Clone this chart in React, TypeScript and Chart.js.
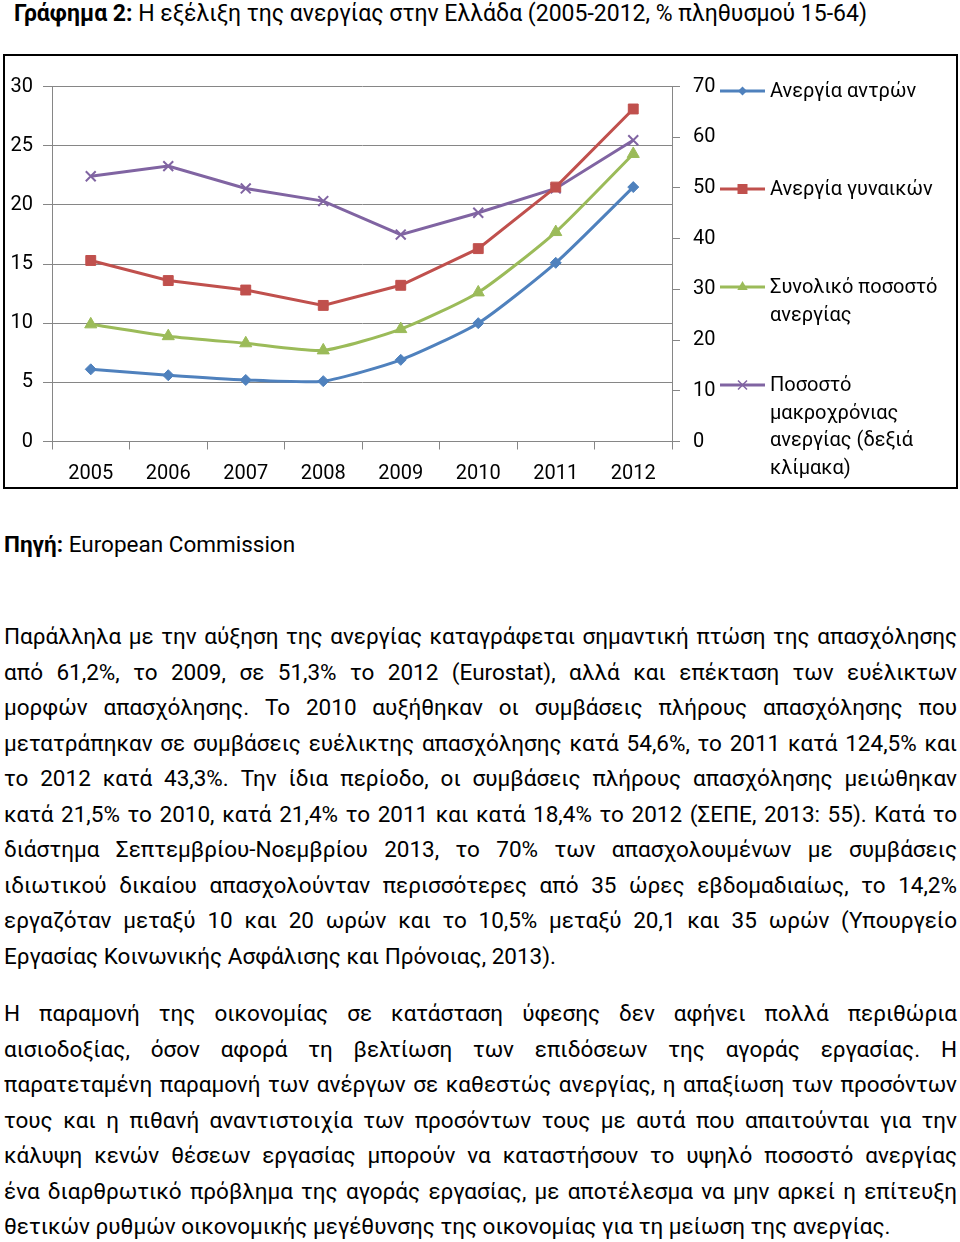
import React, { useEffect, useRef } from "react";
import { Chart, registerables } from "chart.js";

Chart.register(...registerables);

// ---------- data ----------
const years = ["2005", "2006", "2007", "2008", "2009", "2010", "2011", "2012"];
const menUnemployment = [6.1, 5.6, 5.2, 5.1, 6.9, 10.0, 15.1, 21.5];
const womenUnemployment = [15.3, 13.6, 12.8, 11.5, 13.2, 16.3, 21.5, 28.1];
const totalUnemployment = [9.9, 8.9, 8.3, 7.7, 9.5, 12.6, 17.7, 24.3];
const longTermUnemployment = [52.3, 54.3, 49.9, 47.4, 40.8, 45.1, 49.9, 59.4];

const seriesNames = [
  "Ανεργία αντρών",
  "Ανεργία γυναικών",
  "Συνολικό ποσοστό ανεργίας",
  "Ποσοστό μακροχρόνιας ανεργίας (δεξιά κλίμακα)",
];
const legendLines = [
  ["Ανεργία αντρών"],
  ["Ανεργία γυναικών"],
  ["Συνολικό ποσοστό", "ανεργίας"],
  ["Ποσοστό", "μακροχρόνιας", "ανεργίας (δεξιά", "κλίμακα)"],
];

const titleBold = "Γράφημα 2:";
const titleRest = " Η εξέλιξη της ανεργίας στην Ελλάδα (2005-2012, % πληθυσμού 15-64)";
const sourceBold = "Πηγή:";
const sourceRest = " European Commission";

const paragraph1 = [
  "Παράλληλα με την αύξηση της ανεργίας καταγράφεται σημαντική πτώση της  απασχόλησης",
  "από 61,2%, το 2009, σε 51,3% το 2012 (Eurostat), αλλά και επέκταση των ευέλικτων",
  "μορφών απασχόλησης. Το 2010 αυξήθηκαν οι συμβάσεις πλήρους απασχόλησης που",
  "μετατράπηκαν σε συμβάσεις ευέλικτης απασχόλησης κατά 54,6%, το 2011 κατά 124,5% και",
  "το 2012 κατά 43,3%. Την ίδια περίοδο, οι συμβάσεις πλήρους απασχόλησης μειώθηκαν",
  "κατά 21,5% το 2010, κατά 21,4% το 2011 και κατά 18,4% το 2012 (ΣΕΠΕ, 2013: 55).  Κατά το",
  "διάστημα Σεπτεμβρίου-Νοεμβρίου 2013, το 70% των απασχολουμένων με συμβάσεις",
  "ιδιωτικού δικαίου απασχολούνταν περισσότερες από 35 ώρες  εβδομαδιαίως, το 14,2%",
  "εργαζόταν μεταξύ 10 και 20 ωρών και το 10,5% μεταξύ 20,1 και 35 ωρών (Υπουργείο",
  "Εργασίας Κοινωνικής Ασφάλισης και Πρόνοιας, 2013).",
];
const paragraph2 = [
  "Η παραμονή της οικονομίας σε κατάσταση ύφεσης δεν αφήνει πολλά περιθώρια",
  "αισιοδοξίας, όσον αφορά τη βελτίωση των επιδόσεων της αγοράς εργασίας. Η",
  "παρατεταμένη παραμονή των ανέργων σε καθεστώς ανεργίας, η απαξίωση των προσόντων",
  "τους και η πιθανή αναντιστοιχία των προσόντων τους με αυτά που απαιτούνται για την",
  "κάλυψη κενών θέσεων εργασίας μπορούν να  καταστήσουν το υψηλό ποσοστό ανεργίας",
  "ένα διαρθρωτικό πρόβλημα της αγοράς εργασίας, με αποτέλεσμα να μην αρκεί η επίτευξη",
  "θετικών ρυθμών οικονομικής μεγέθυνσης της οικονομίας για τη μείωση της ανεργίας.",
];

// ---------- style ----------
const FONT = "Roboto, 'Noto Sans', sans-serif";
const colors = ["#4F81BD", "#C0504D", "#9BBB59", "#8064A2"];
const markers = ["rectRot", "rect", "triangle", "crossRot"];
const GRID = "#868686";

function drawMarker(ctx: CanvasRenderingContext2D, kind: string, x: number, y: number, color: string) {
  ctx.save();
  ctx.fillStyle = color;
  ctx.strokeStyle = color;
  ctx.beginPath();
  if (kind === "rectRot") {
    const r = 4.5;
    ctx.moveTo(x, y - r);
    ctx.lineTo(x + r, y);
    ctx.lineTo(x, y + r);
    ctx.lineTo(x - r, y);
    ctx.closePath();
    ctx.fill();
  } else if (kind === "rect") {
    const s = 5;
    ctx.rect(x - s, y - s, 2 * s, 2 * s);
    ctx.fill();
  } else if (kind === "triangle") {
    const r = 6;
    ctx.moveTo(x, y - r);
    ctx.lineTo(x + r * 0.866, y + r * 0.5);
    ctx.lineTo(x - r * 0.866, y + r * 0.5);
    ctx.closePath();
    ctx.fill();
  } else {
    const a = 4.5;
    ctx.lineWidth = 1.5;
    ctx.moveTo(x - a, y - a);
    ctx.lineTo(x + a, y + a);
    ctx.moveTo(x + a, y - a);
    ctx.lineTo(x - a, y + a);
    ctx.stroke();
  }
  ctx.restore();
}

const sideLegend = {
  id: "sideLegend",
  afterDraw(chart: any) {
    const { ctx, chartArea } = chart;
    const x0 = chartArea.right + 48;
    const x1 = chartArea.right + 93;
    const tx = chartArea.right + 98;
    ctx.save();
    ctx.font = `20px ${FONT}`;
    ctx.fillStyle = "#000";
    ctx.textBaseline = "middle";
    ctx.textAlign = "left";
    legendLines.forEach((lines, i) => {
      const y = chartArea.top + 4.5 + i * 98;
      ctx.save();
      ctx.strokeStyle = colors[i];
      ctx.lineWidth = 3;
      ctx.beginPath();
      ctx.moveTo(x0, y);
      ctx.lineTo(x1, y);
      ctx.stroke();
      ctx.restore();
      drawMarker(ctx, markers[i], (x0 + x1) / 2, y, colors[i]);
      lines.forEach((t, j) => {
        ctx.fillText(t, tx, y + 1 + j * 27.5);
      });
    });
    ctx.restore();
  },
};

function UnemploymentChart() {
  const ref = useRef<HTMLCanvasElement | null>(null);
  useEffect(() => {
    if (!ref.current) return;
    const tickFont = { family: FONT, size: 20 };
    const mk = (i: number, data: number[], axis: string, tension: number, radius: number) => ({
      label: seriesNames[i],
      data,
      yAxisID: axis,
      borderColor: colors[i],
      backgroundColor: colors[i],
      borderWidth: 3,
      pointStyle: markers[i],
      pointRadius: radius,
      pointBorderWidth: i === 3 ? 2 : 1,
      pointBorderColor: colors[i],
      pointBackgroundColor: colors[i],
      tension,
      fill: false,
    });
    const chart = new Chart(ref.current, {
      type: "line",
      data: {
        labels: years,
        datasets: [
          mk(0, menUnemployment, "y", 0.2, 5.5),
          mk(1, womenUnemployment, "y", 0, 7),
          mk(2, totalUnemployment, "y", 0.2, 7),
          mk(3, longTermUnemployment, "y1", 0, 7),
        ],
      },
      options: {
        responsive: false,
        animation: false,
        layout: { padding: { top: 31.5, left: 0, right: 238, bottom: 7.5 } },
        plugins: { legend: { display: false }, tooltip: { enabled: false } },
        scales: {
          x: {
            type: "category",
            offset: true,
            grid: { offset: true, drawOnChartArea: false, drawTicks: true, tickLength: 8, color: GRID },
            border: { color: GRID },
            ticks: { font: tickFont, color: "#000", padding: 12, maxRotation: 0, autoSkip: false },
            afterFit: (s: any) => {
              s.height = 46;
            },
          },
          y: {
            position: "left",
            min: 0,
            max: 30,
            ticks: { stepSize: 5, font: tickFont, color: "#000", padding: 10 },
            grid: { color: GRID, tickLength: 9 },
            border: { color: GRID },
            afterFit: (s: any) => {
              s.width = 52;
            },
          },
          y1: {
            position: "right",
            min: 0,
            max: 70,
            ticks: { stepSize: 10, font: tickFont, color: "#000", padding: 13 },
            grid: { drawOnChartArea: false, tickLength: 8, color: GRID },
            border: { color: GRID },
            afterFit: (s: any) => {
              s.width = 50;
            },
          },
        },
      },
      plugins: [sideLegend],
    } as any);
    return () => chart.destroy();
  }, []);
  return (
    <canvas
      ref={ref}
      width={960}
      height={440}
      style={{ position: "absolute", left: 0, top: 55, width: 960, height: 440 }}
    />
  );
}

const textStyle: React.CSSProperties = {
  position: "absolute",
  left: 4,
  width: 953,
  fontFamily: FONT,
  fontSize: 22.5,
  lineHeight: "30px",
  color: "#000",
  margin: 0,
};

function Lines({ lines, startY }: { lines: string[]; startY: number }) {
  return (
    <>
      {lines.map((l, i) => {
        const last = i === lines.length - 1;
        return (
          <div
            key={i}
            style={{
              ...textStyle,
              top: startY + i * 35.5 - 15,
              textAlign: last ? "left" : "justify",
              textAlignLast: last ? "left" : "justify",
            } as React.CSSProperties}
          >
            {l}
          </div>
        );
      })}
    </>
  );
}

export default function App() {
  return (
    <div style={{ position: "absolute", left: 0, top: 0, width: 960, height: 1242, background: "#fff" }}>
      <div style={{ ...textStyle, left: 14, top: -1, width: 946, fontSize: 23 }}>
        <b>{titleBold}</b>
        {titleRest}
      </div>
      <UnemploymentChart />
      <div
        style={{
          position: "absolute",
          left: 3,
          top: 54,
          width: 955,
          height: 435,
          border: "2px solid #000",
          boxSizing: "border-box",
          pointerEvents: "none",
        }}
      />
      <div style={{ ...textStyle, top: 544 - 15 }}>
        <b>{sourceBold}</b>
        {sourceRest}
      </div>
      <Lines lines={paragraph1} startY={636} />
      <Lines lines={paragraph2} startY={1013} />
    </div>
  );
}
